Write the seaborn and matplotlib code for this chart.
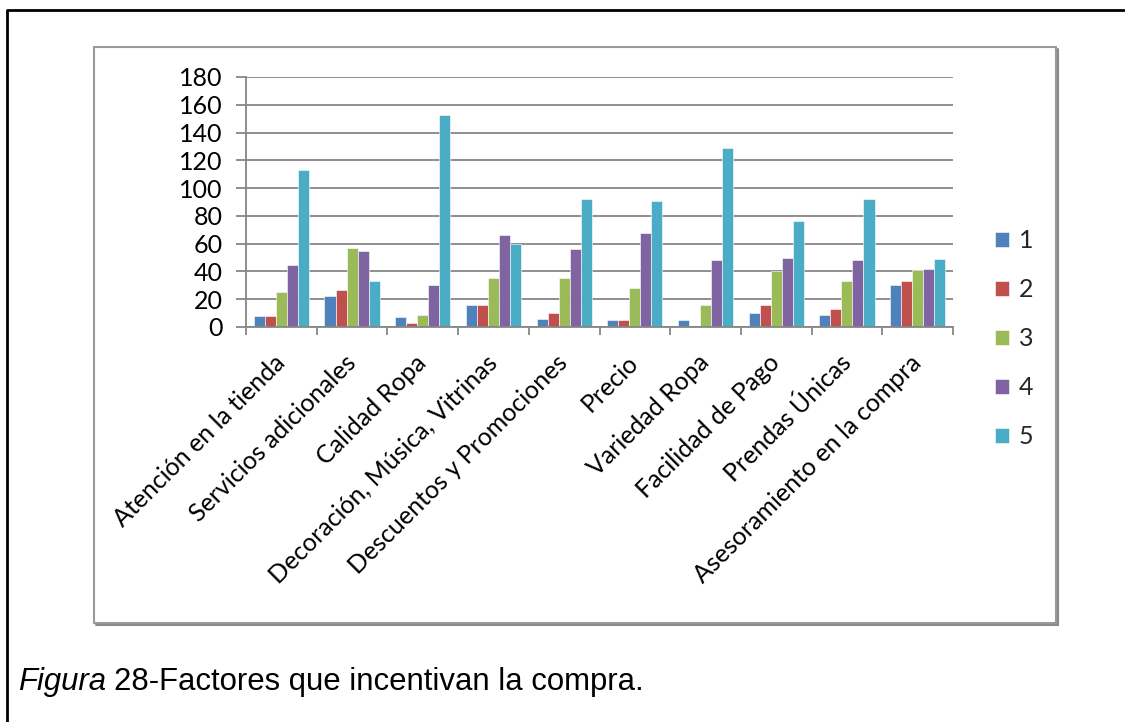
import numpy as np
import pandas as pd
import matplotlib
matplotlib.use("Agg")
import matplotlib.pyplot as plt
from matplotlib.lines import Line2D
from matplotlib.patches import Rectangle
import seaborn as sns

# Survey results: how many respondents gave each rating (1-5) to each factor
categorias = [
    "Atención en la tienda",
    "Servicios adicionales",
    "Calidad Ropa",
    "Decoración, Música, Vitrinas",
    "Descuentos y Promociones",
    "Precio",
    "Variedad Ropa",
    "Facilidad de Pago",
    "Prendas Únicas",
    "Asesoramiento en la compra",
]
serie_1 = [8, 22, 7, 16, 6, 5, 5, 10, 9, 30]
serie_2 = [8, 27, 3, 16, 10, 5, 0, 16, 13, 33]
serie_3 = [25, 57, 9, 35, 35, 28, 16, 40, 33, 41]
serie_4 = [45, 55, 30, 66, 56, 68, 48, 50, 48, 42]
serie_5 = [113, 33, 153, 60, 92, 91, 129, 76, 92, 49]
nombres_series = ["1", "2", "3", "4", "5"]
marcas_y = [0, 20, 40, 60, 80, 100, 120, 140, 160, 180]
titulo_italica = "Figura"
titulo_resto = "28-Factores que incentivan la compra."

colores = ["#4F81BD", "#C0504D", "#9BBB59", "#8064A2", "#4BACC6"]

tabla = pd.DataFrame({
    "factor": np.tile(categorias, 5),
    "valor": np.concatenate([serie_1, serie_2, serie_3, serie_4, serie_5]),
    "serie": np.repeat(nombres_series, len(categorias)),
})

sns.set_theme(style="white")
plt.rcParams["font.family"] = ["Lato", "DejaVu Sans"]

W, H = 1125, 722
fig = plt.figure(figsize=(W / 100, H / 100), dpi=100)


def fx(px):
    return px / W


def fy(py):
    return 1 - py / H


ax = fig.add_axes([fx(246), fy(327), fx(953) - fx(246), fy(77) - fy(327)])

sns.barplot(data=tabla, x="factor", y="valor", hue="serie", order=categorias,
            hue_order=nombres_series, palette=colores, saturation=1,
            width=0.78, edgecolor="#ffffff", linewidth=0.4, ax=ax)

gris = "#868686"
tam = 18
ax.set_ylim(0, 180)
ax.set_xlim(-0.5, len(categorias) - 0.5)
ax.set_yticks(marcas_y)
ax.set_yticklabels([str(v) for v in marcas_y])
ax.yaxis.grid(True, color=gris, linewidth=1.3)
ax.set_axisbelow(True)
ax.set_xlabel("")
ax.set_ylabel("")

for lado in ("top", "right"):
    ax.spines[lado].set_visible(False)
for lado in ("left", "bottom"):
    ax.spines[lado].set_color(gris)
    ax.spines[lado].set_linewidth(1.3)

ax.tick_params(axis="y", which="major", length=7, width=1.3, color=gris,
               direction="out", pad=10, labelsize=tam, labelcolor="#000000", left=True)
ax.set_xticks(np.arange(len(categorias)))
ax.set_xticklabels(categorias, rotation=45, ha="right", va="center",
                   rotation_mode="anchor")
ax.tick_params(axis="x", which="major", length=0, pad=23, labelsize=tam,
               labelcolor="#000000")
ax.set_xticks(np.arange(-0.5, len(categorias), 1), minor=True)
ax.tick_params(axis="x", which="minor", length=6, width=1.3, color=gris,
               direction="out", bottom=True)

# legend to the right of the plot area
handles, labels = ax.get_legend_handles_labels()
ax.get_legend().remove()
fig.legend(handles, labels, loc="upper left",
           bbox_to_anchor=(fx(985), fy(219)), frameon=False, fontsize=tam,
           handlelength=0.56, handleheight=0.56, handletextpad=0.4,
           labelspacing=1.04, borderaxespad=0)

# chart area frame with a soft shadow on the right and bottom
fig.add_artist(Rectangle((fx(94), fy(623)), fx(1056) - fx(94), fy(47) - fy(623),
                         transform=fig.transFigure, fill=False,
                         edgecolor="#9a9a9a", linewidth=1.5))
fig.add_artist(Line2D([fx(1057.5), fx(1057.5)], [fy(49), fy(624.5)],
                      transform=fig.transFigure, color="#8a8a8a", linewidth=1.5))
fig.add_artist(Line2D([fx(96), fx(1057.5)], [fy(624.5), fy(624.5)],
                      transform=fig.transFigure, color="#8a8a8a", linewidth=1.5))

# outer page frame
fig.add_artist(Line2D([fx(7), fx(7), fx(W)], [fy(H), fy(10), fy(10)],
                      transform=fig.transFigure, color="#000000", linewidth=2))

# caption
t1 = fig.text(fx(18), fy(690), titulo_italica, fontsize=22.4, style="italic",
              family="Liberation Sans", va="baseline", ha="left", color="#000000")
fig.canvas.draw()
bb = t1.get_window_extent(renderer=fig.canvas.get_renderer())
fig.text(bb.x1 / W + fx(8), fy(690), titulo_resto, fontsize=22.4,
         family="Liberation Sans", va="baseline", ha="left", color="#000000")

fig.savefig("out.png", dpi=100)
